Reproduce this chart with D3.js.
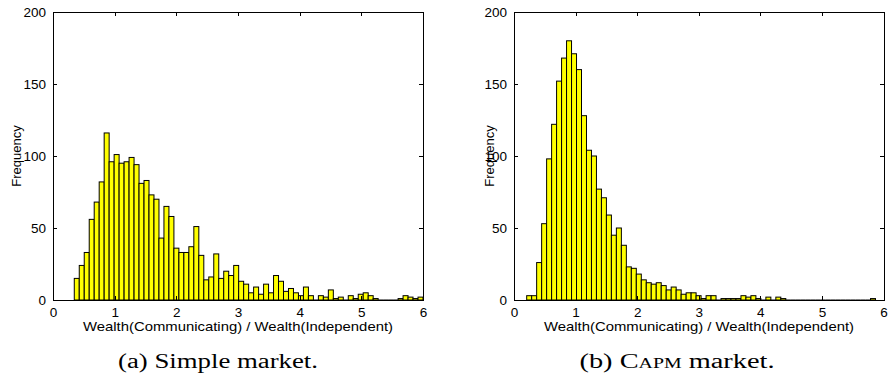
<!DOCTYPE html>
<html>
<head>
<meta charset="utf-8">
<script src="https://cdn.jsdelivr.net/npm/d3@7"></script>
<style>
  html, body { margin: 0; padding: 0; background: #fff; }
  svg { display: block; }
  .axis text { font-family: "Liberation Sans", Arial, sans-serif; font-size: 13.5px; fill: #000; }
  .axis path, .axis line { stroke: #000; stroke-width: 1; shape-rendering: crispEdges; }
</style>
</head>
<body>
<svg id="chart" width="890" height="377"></svg>
<script>
// ---------- data ----------
const xTickValues = [0, 1, 2, 3, 4, 5, 6];
const yTickValues = [0, 50, 100, 150, 200];
const xLabel = "Wealth(Communicating) / Wealth(Independent)";
const yLabel = "Frequency";

// (a) Simple market: 70 bins from min to max of the data
const simpleRange = [0.345, 6.0];
const simpleCounts = [15, 24, 33, 56, 68, 82, 116, 96, 101, 95,
                      96, 99, 94, 81, 83, 73, 70, 43, 65, 58,
                      36, 33, 33, 37, 51, 31, 14, 16, 32, 15,
                      20, 17, 24, 13, 11, 5, 9, 4, 11, 5,
                      17, 13, 6, 8, 5, 3, 9, 3, 0, 3,
                      2, 7, 1, 2, 0, 3, 1, 4, 5, 3,
                      1, 0, 0, 0, 0, 1, 3, 2, 1, 2];

// (b) CAPM market: 70 bins
const capmRange = [0.206, 5.87];
const capmCounts = [3, 3, 26, 53, 98, 122, 152, 168, 180, 171,
                    160, 128, 104, 100, 77, 71, 59, 45, 50, 38,
                    23, 22, 18, 14, 12, 11, 12, 10, 7, 9,
                    7, 4, 5, 5, 3, 1, 3, 3, 0, 1,
                    1, 1, 1, 3, 2, 3, 1, 0, 2, 0,
                    2, 1, 0, 0, 0, 0, 0, 0, 0, 0,
                    0, 0, 0, 0, 0, 0, 0, 0, 0, 1];

const captionPrefixes = ["(a) ", "(b) "];
const captionNames = ["Simple", "Capm"];
const captionSuffix = " market.";

// ---------- layout ----------
const panels = [
  { counts: simpleCounts, range: simpleRange, left: 53, right: 423, smallCaps: false,
    captionX: 218, captionW: 200, xLabelX: 238, yLabelX: 21 },
  { counts: capmCounts, range: capmRange, left: 514, right: 883.5, smallCaps: true,
    captionX: 677, captionW: 195, xLabelX: 699, yLabelX: 494 }
];
const plotTop = 12, plotBottom = 300;

const svg = d3.select("#chart");

panels.forEach((p, i) => {
  const x = d3.scaleLinear().domain([0, 6]).range([p.left, p.right]);
  const y = d3.scaleLinear().domain([0, 200]).range([plotBottom, plotTop]);
  const n = p.counts.length;
  const w = (p.range[1] - p.range[0]) / n;
  const bins = p.counts.map((c, k) => ({ x0: p.range[0] + k * w, x1: p.range[0] + (k + 1) * w, c }));

  const g = svg.append("g");

  // bars
  g.selectAll("rect.bar")
    .data(bins.filter(b => b.c > 0))
    .join("rect")
    .attr("class", "bar")
    .attr("x", d => x(d.x0))
    .attr("y", d => y(d.c))
    .attr("width", d => x(d.x1) - x(d.x0))
    .attr("height", d => y(0) - y(d.c))
    .attr("fill", "#ffff00")
    .attr("stroke", "#000")
    .attr("stroke-width", 1);

  // zero-count bins drawn as a baseline segment
  g.selectAll("line.zero")
    .data(bins.filter(b => b.c === 0))
    .join("line")
    .attr("class", "zero")
    .attr("x1", d => x(d.x0)).attr("x2", d => x(d.x1))
    .attr("y1", y(0)).attr("y2", y(0))
    .attr("stroke", "#000");

  // axes (MATLAB style: inward ticks, boxed)
  g.append("g").attr("class", "axis")
    .attr("transform", `translate(0,${plotBottom})`)
    .call(d3.axisBottom(x).tickValues(xTickValues).tickFormat(d3.format("d"))
      .tickSizeInner(-4).tickSizeOuter(0).tickPadding(7));
  g.append("g").attr("class", "axis")
    .attr("transform", `translate(0,${plotTop})`)
    .call(d3.axisTop(x).tickValues(xTickValues).tickFormat("")
      .tickSizeInner(-4).tickSizeOuter(0));
  g.append("g").attr("class", "axis")
    .attr("transform", `translate(${p.left},0)`)
    .call(d3.axisLeft(y).tickValues(yTickValues).tickFormat(d3.format("d"))
      .tickSizeInner(-4).tickSizeOuter(0).tickPadding(7));
  g.append("g").attr("class", "axis")
    .attr("transform", `translate(${p.right},0)`)
    .call(d3.axisRight(y).tickValues(yTickValues).tickFormat("")
      .tickSizeInner(-4).tickSizeOuter(0));

  // axis labels
  g.append("text")
    .attr("x", p.xLabelX).attr("y", 331)
    .attr("text-anchor", "middle")
    .attr("textLength", 310).attr("lengthAdjust", "spacingAndGlyphs")
    .style("font-family", '"Liberation Sans", Arial, sans-serif')
    .style("font-size", "13px")
    .text(xLabel);
  g.append("text")
    .attr("transform", `translate(${p.yLabelX},${(plotTop + plotBottom) / 2}) rotate(-90)`)
    .attr("text-anchor", "middle")
    .style("font-family", '"Liberation Sans", Arial, sans-serif')
    .style("font-size", "13px")
    .text(yLabel);

  // caption
  const cap = g.append("text")
    .attr("x", p.captionX).attr("y", 368)
    .attr("text-anchor", "middle")
    .attr("textLength", p.captionW).attr("lengthAdjust", "spacingAndGlyphs")
    .style("font-family", '"Liberation Serif", "DejaVu Serif", serif')
    .style("font-size", "20px");
  cap.append("tspan").text(captionPrefixes[i]);
  cap.append("tspan").style("font-variant", p.smallCaps ? "small-caps" : "normal").text(captionNames[i]);
  cap.append("tspan").text(captionSuffix);
});
</script>
</body>
</html>
